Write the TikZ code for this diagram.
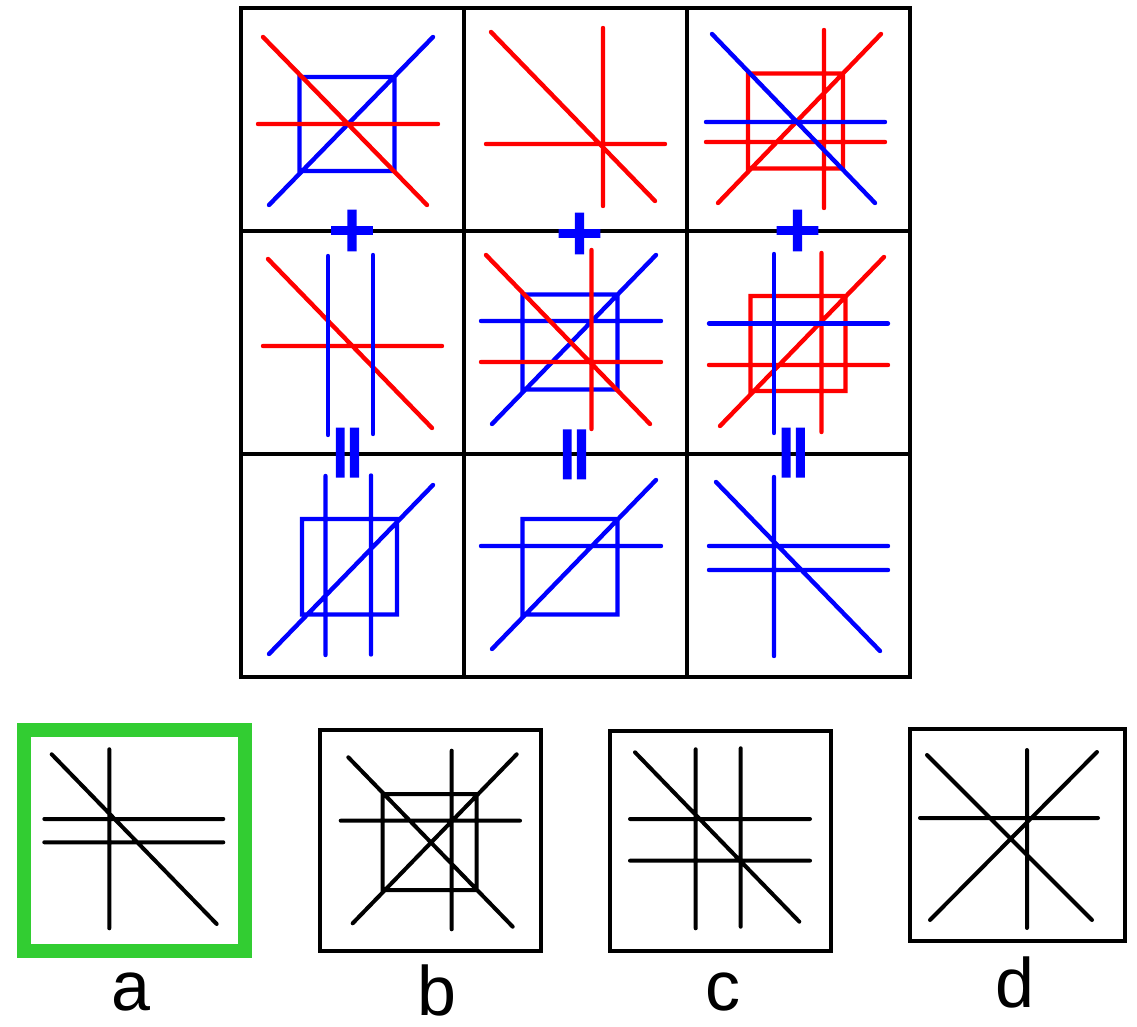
\documentclass[tikz,border=0pt]{standalone}
\usepackage{fontspec}
\setmainfont{Liberation Sans}
\newfontfamily\opfont{DejaVu Sans}[BoldFeatures={FakeBold=2.5}]
\definecolor{okgreen}{RGB}{50,205,50}
\begin{document}
\begin{tikzpicture}[x=0.5pt,y=-0.5pt,
  gridline/.style={line width=2pt},
  fig/.style={line width=2.2pt,line cap=round},
  opt/.style={line width=2pt,line cap=round},
  opsign/.style={inner sep=0pt,text=blue,font=\opfont\bfseries\fontsize{32}{32}\selectfont},
  optlabel/.style={anchor=base,inner sep=0pt,font=\fontsize{35}{42}\selectfont}]
\useasboundingbox (0,0) rectangle (1137,1027);
% the 3x3 grid
\draw[gridline] (241,8.5) rectangle (910,677);
\foreach \x in {464,687} \draw[gridline] (\x,8.5) -- (\x,677);
\foreach \y in {231,454} \draw[gridline] (241,\y) -- (910,\y);
% row 1
\draw[fig,blue] (269,205) -- (433,37) (299.5,77) rectangle (394.5,171);
\draw[fig,red] (263,37) -- (427,205) (258,124) -- (438,124);
\draw[fig,red] (491,32) -- (655,201) (603,28) -- (603,206) (486,144) -- (665,144);
\draw[fig,red] (718,203) -- (881,34) (748,73.5) rectangle (843,168.5) (824,30) -- (824,208) (706,142) -- (885,142);
\draw[fig,blue] (712,34) -- (875,203) (706,122) -- (885,122);
% row 2
\draw[fig,red] (268,259) -- (432,428) (263,346) -- (442,346);
\draw[fig,blue] (328,256) -- (328,435) (373,255) -- (373,434);
\draw[fig,blue] (492,424) -- (656,255) (522.5,294.5) rectangle (617.5,389.5) (481,321) -- (661,321);
\draw[fig,red] (486,255) -- (650,424) (481,362) -- (661,362) (591.5,250) -- (591.5,429);
\draw[fig,red] (720,426) -- (884,257) (750.5,296) rectangle (845.5,391) (821.5,253) -- (821.5,432) (709,365) -- (888,365);
\draw[fig,blue] (774,254) -- (774,433) (709,323.5) -- (888,323.5);
% row 3
\draw[fig,blue] (269,654) -- (433,485) (302,519) rectangle (397,614.5) (325.5,476) -- (325.5,655) (371,475.5) -- (371,654.5);
\draw[fig,blue] (492,649) -- (656,480) (522.5,519) rectangle (617.5,614.5) (481,546) -- (661,546);
\draw[fig,blue] (716,482) -- (880,651) (774,477) -- (774,656) (709,546) -- (888,546) (709,570) -- (888,570);
% plus and equals signs
\foreach \n/\x/\y in {1/352/230.5,2/579.5/233.5,3/797.5/230.5}
  \node[opsign] (p\n) at (\x,\y) {+};
\foreach \n/\x/\y in {1/352/452.7,2/579/454.5,3/797.8/452.7}
  \node[opsign,rotate=90] (e\n) at (\x,\y) {\scalebox{1.2}[1]{=}};
% answers
\draw[line width=7pt,okgreen] (23.7,729.7) rectangle (245.3,950.8);
\draw[opt] (51.7,754.3) -- (216.7,924) (109.3,749.3) -- (109.3,928.3) (44.3,819) -- (223.3,819) (44.3,842.3) -- (223.3,842.3);
\draw[line width=2pt] (320,730) rectangle (540.5,950.5);
\draw[opt] (348.3,757.3) -- (512.7,926.7) (352.7,923.3) -- (516.7,754.3) (382.7,794) rectangle (476.7,890) (451.7,750.7) -- (451.7,929.3) (340.7,820.7) -- (520,820.7);
\draw[line width=2pt] (610,731) rectangle (830.5,950.5);
\draw[opt] (635,752.3) -- (799.3,921.7) (695.7,749.3) -- (695.7,928.3) (740.7,748.3) -- (740.7,926.7) (630,819) -- (810,819) (630,860.7) -- (810,860.7);
\draw[line width=2pt] (910,729) rectangle (1125,941);
\draw[opt] (927,755) -- (1092,920) (930,920) -- (1097,752) (1027,750) -- (1027,928) (920,818) -- (1098,818);
\node[optlabel] (la) at (131,1010) {a};
\node[optlabel] (lb) at (437,1015) {b};
\node[optlabel] (lc) at (722.5,1010) {c};
\node[optlabel] (ld) at (1015,1007) {d};
\end{tikzpicture}
\end{document}
